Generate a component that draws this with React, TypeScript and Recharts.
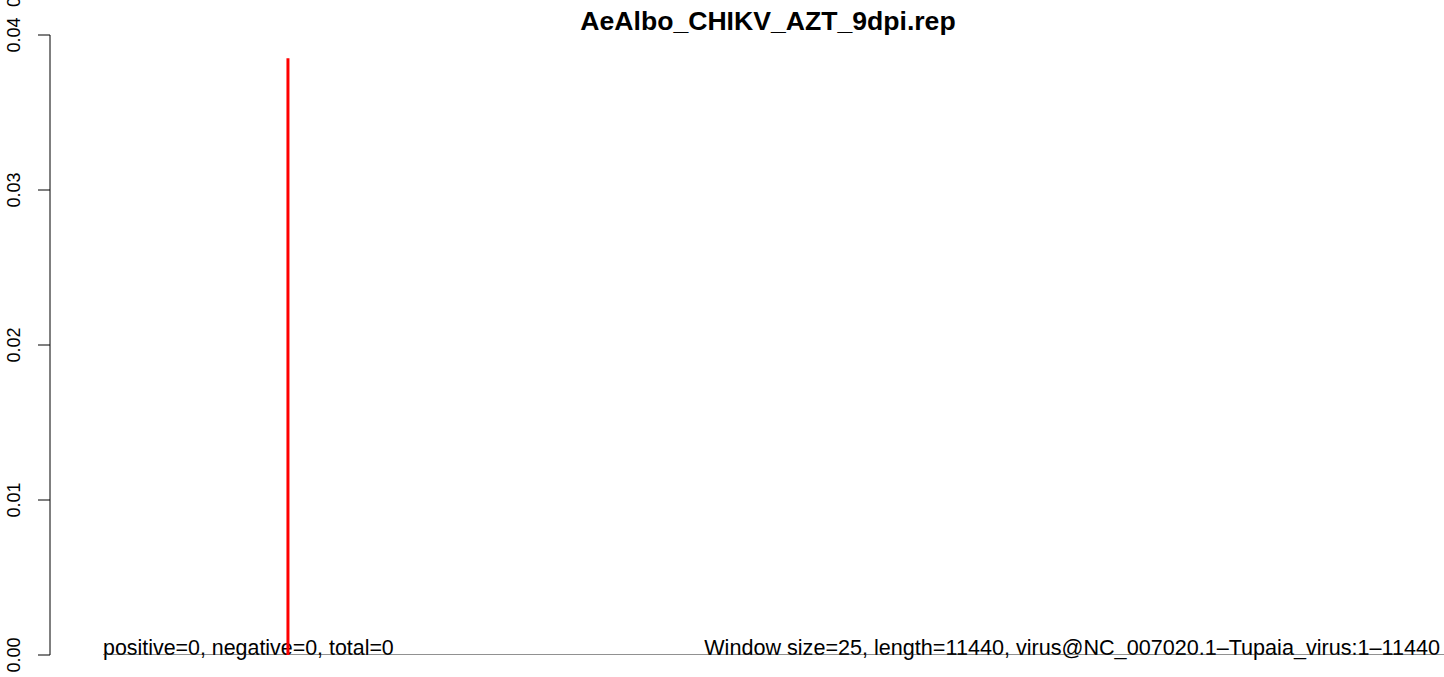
import { LineChart, Line, XAxis, YAxis } from 'recharts';

const title = 'AeAlbo_CHIKV_AZT_9dpi.rep';
const leftNote = 'positive=0, negative=0, total=0';
const rightNote = 'Window size=25, length=11440, virus@NC_007020.1\u2013Tupaia_virus:1\u201311440';

const yTicks = [0, 0.01, 0.02, 0.03, 0.04];
const yTickLabels = ['0.00', '0.01', '0.02', '0.03', '0.04'];

// baseline across the genome and the single red spike
const baseline = [
  { pos: 1, value: 0 },
  { pos: 11440, value: 0 },
];
const spike = [
  { pos: 1578, value: 0 },
  { pos: 1578, value: 0.0385 },
];

const font = '"Liberation Sans", Arial, sans-serif';

const YTick = (props: any) => {
  const { y, payload } = props;
  const idx = yTicks.indexOf(payload.value);
  return (
    <text
      transform={`translate(20, ${y}) rotate(-90)`}
      textAnchor="middle"
      fontSize={18}
      fontFamily={font}
      fill="#000"
    >
      {idx >= 0 ? yTickLabels[idx] : payload.value}
    </text>
  );
};

const App = () => {
  return (
    <div style={{ position: 'absolute', left: 0, top: 0, width: 1444, height: 677, background: '#fff' }}>
      <LineChart
        width={1444}
        height={677}
        margin={{ top: 35, right: 0, bottom: 22, left: 0 }}
      >
        <XAxis type="number" dataKey="pos" domain={[-452, 11440]} hide allowDuplicatedCategory={false} />
        <YAxis
          type="number"
          width={50}
          domain={[0, 0.04]}
          ticks={yTicks}
          tickSize={12}
          tick={<YTick />}
          stroke="#000"
          tickLine={{ stroke: '#000' }}
          axisLine={{ stroke: '#000' }}
          allowDataOverflow
        />
        <Line
          data={baseline}
          dataKey="value"
          stroke="#222"
          strokeWidth={1}
          dot={false}
          activeDot={false}
          isAnimationActive={false}
        />
        <Line
          data={spike}
          dataKey="value"
          stroke="#ff0000"
          strokeWidth={3}
          dot={false}
          activeDot={false}
          isAnimationActive={false}
        />
        <text x={768} y={30} textAnchor="middle" fontSize={26.6} fontWeight="bold" fontFamily={font} fill="#000">
          {title}
        </text>
        <text x={103} y={655} fontSize={21.4} fontFamily={font} fill="#000">
          {leftNote}
        </text>
        <text x={1440} y={655} textAnchor="end" fontSize={21.6} fontFamily={font} fill="#000">
          {rightNote}
        </text>
        <text transform="translate(20, 7) rotate(-90)" textAnchor="start" fontSize={18} fontFamily={font} fill="#000">
          0.05
        </text>
      </LineChart>
    </div>
  );
};

export default App;
